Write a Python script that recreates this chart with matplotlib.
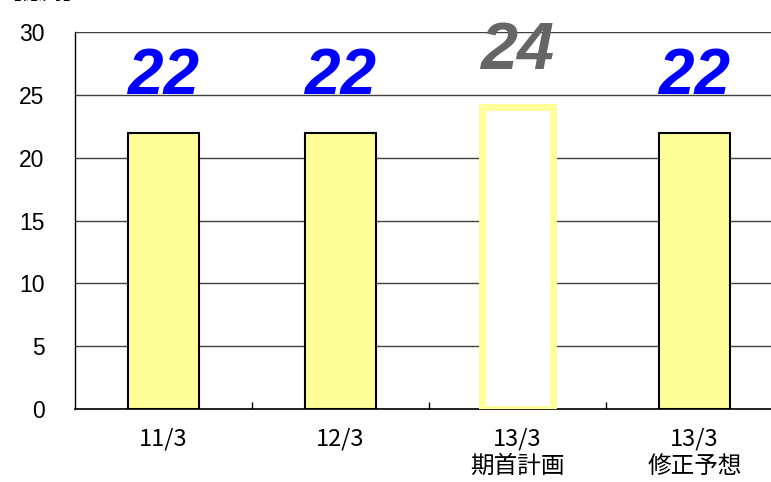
import matplotlib
matplotlib.use('Agg')
import matplotlib.pyplot as plt

plt.rcParams['font.family'] = ['Liberation Sans', 'Noto Sans CJK JP', 'DejaVu Sans']

# data
categories = ['11/3', '12/3', '13/3\n期首計画', '13/3\n修正予想']
values = [22, 22, 24, 22]
label_colors = ['#0000FF', '#0000FF', '#666666', '#0000FF']
fill_colors = ['#FFFF99', '#FFFF99', 'white', '#FFFF99']
edge_colors = ['black', 'black', '#FFFF99', 'black']
edge_widths = [1.5, 1.5, 5, 1.5]
label_sizes = [46, 46, 48, 46]
yticks = [0, 5, 10, 15, 20, 25, 30]

fig = plt.figure(figsize=(7.71, 4.82), dpi=100)
ax = fig.add_axes([75 / 771, 73 / 482, 708 / 771, 377 / 482])

x = list(range(len(categories)))
ax.bar(x, values, width=0.4, color=fill_colors, edgecolor=edge_colors,
       linewidth=edge_widths, zorder=3)

for xi, v, c, s in zip(x, values, label_colors, label_sizes):
    ax.annotate(str(v), (xi, v), xytext=(0, 28), textcoords='offset points',
                ha='center', va='baseline', fontsize=s, fontweight='bold',
                fontstyle='italic', color=c, zorder=5, annotation_clip=False)

ax.set_xlim(-0.5, 3.5)
ax.set_ylim(0, 30)
ax.set_yticks(yticks)
ax.tick_params(axis='y', length=0, pad=22, labelsize=16.5)
ax.yaxis.grid(True, color='#404040', linewidth=1, zorder=0)
ax.set_axisbelow(True)

ax.set_xticks(x)
ax.set_xticklabels(categories, fontfamily=['Noto Sans CJK JP'], fontsize=17,
                   linespacing=1.25)
ax.tick_params(axis='x', length=0, pad=13)
ax.set_xticks([0.5, 1.5, 2.5], minor=True)
ax.tick_params(axis='x', which='minor', direction='in', length=5, width=1, color='black')

for sp in ['top', 'right']:
    ax.spines[sp].set_visible(False)
ax.spines['left'].set_color('black')
ax.spines['bottom'].set_color('black')
ax.spines['left'].set_linewidth(1)
ax.spines['bottom'].set_linewidth(1.2)

# unit label, clipped at the top edge as in the original
fig.text(0.0, 1 - 4 / 482, '【億円】', ha='left', va='bottom',
         fontsize=15, fontfamily=['Noto Sans CJK JP'])

fig.savefig('out.png', dpi=100)
